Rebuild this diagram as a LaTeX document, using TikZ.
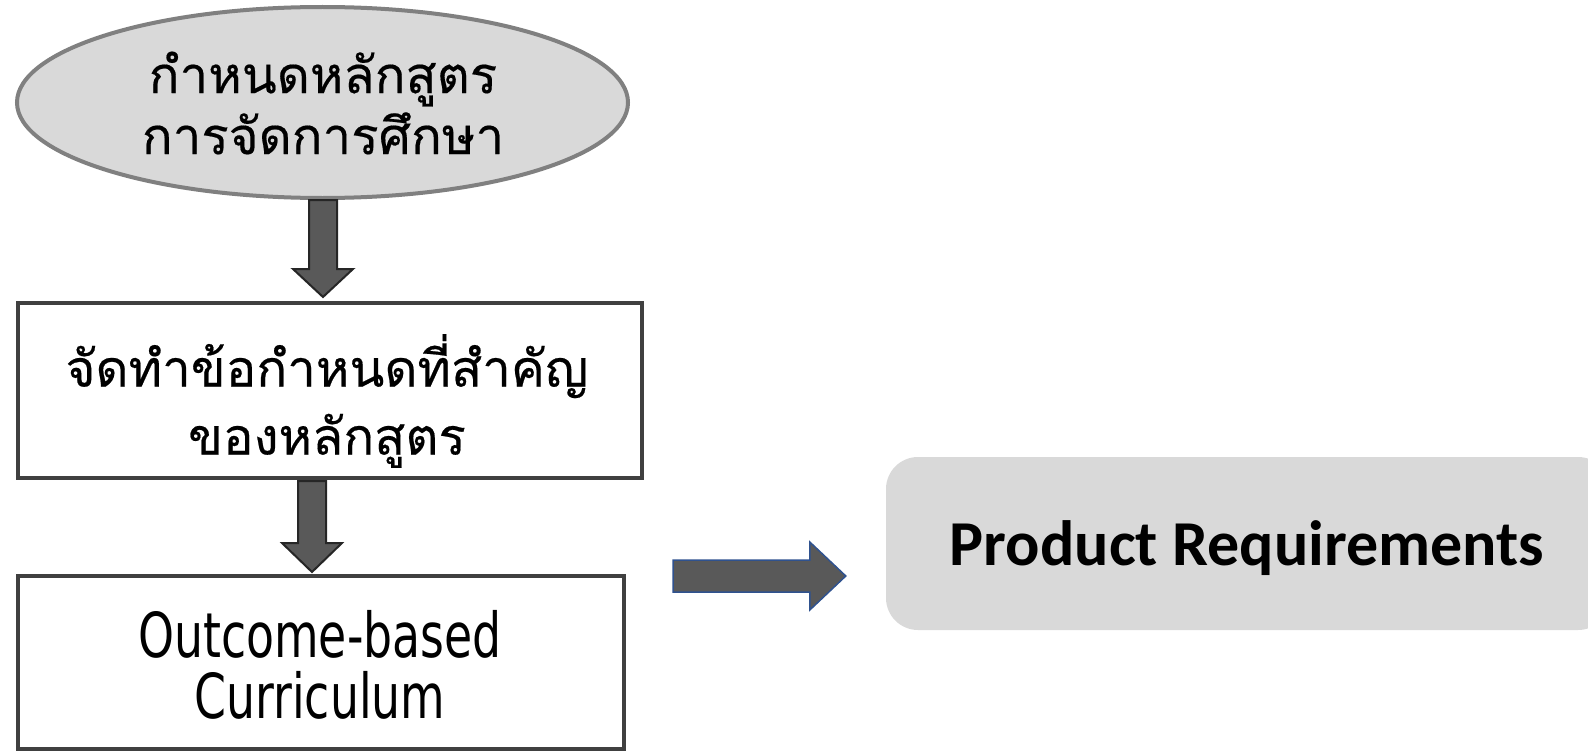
\documentclass[tikz,border=0pt]{standalone}
\usepackage{fontspec}
\usepackage{graphicx}
\usetikzlibrary{shapes.geometric,calc}
\newfontfamily\thaifont[Script=Thai,FakeBold=0.35]{Loma}
\newfontfamily\latnfont{DejaVu Sans Condensed}
\newfontfamily\prodfont{Carlito}
\definecolor{boxgray}{HTML}{D9D9D9}
\definecolor{rimgray}{HTML}{808080}
\definecolor{darkrim}{HTML}{404040}
\definecolor{arrowfill}{HTML}{595959}
\definecolor{arrowrim}{HTML}{262626}
\definecolor{bluerim}{HTML}{2F528F}
\tikzset{
  ovalbox/.style={ellipse, draw=rimgray, fill=boxgray, line width=4pt, inner sep=0pt},
  plainbox/.style={rectangle, draw=darkrim, fill=white, line width=4pt, inner sep=0pt},
  softbox/.style={rectangle, rounded corners=32pt, fill=boxgray, inner sep=0pt},
  blockarrow/.style={fill=arrowfill, draw=arrowrim, line width=2pt, line join=miter},
  sidearrow/.style={fill=arrowfill, draw=bluerim, line width=1.5pt, line join=miter},
  thaitext/.style={font=\thaifont\fontsize{51}{61}\selectfont, align=center},
  thaitextb/.style={font=\thaifont\fontsize{51}{68}\selectfont, align=center},
  latntext/.style={font=\latnfont\fontsize{62}{61}\selectfont, align=center},
  prodtext/.style={font=\prodfont\bfseries\fontsize{64}{70}\selectfont}
}
\begin{document}
\begin{tikzpicture}[x=1pt,y=-1pt]
\useasboundingbox (0,0) rectangle (1588,752);
\clip (0,0) rectangle (1588,752);
% nodes
\node[ovalbox, minimum width=611pt, minimum height=191pt] (e) at (322.5,102.5) {};
\node[thaitext] (et) at (323,103) {กำหนดหลักสูตร\\การจัดการศึกษา};
\node[plainbox, minimum width=624pt, minimum height=175pt] (b2) at (330,390.5) {};
\node[thaitextb] (b2t) at (327,401) {จัดทำข้อกำหนดที่สำคัญ\\ของหลักสูตร};
\node[plainbox, minimum width=606pt, minimum height=173pt] (b3) at (321,662.5) {};
\node[latntext] (b3t) at (320,665) {\scalebox{0.82}[1]{Outcome-based}\\\scalebox{0.82}[1]{Curriculum}};
\node[softbox, minimum width=724pt, minimum height=173pt] (pr) at (1248,543.5) {};
\node[prodtext] (prt) at (1247,548) {Product Requirements};
% arrow 1
\coordinate (a1s) at (e.south -| 323,0);
\coordinate (a1t) at (b2.north -| 323,0);
\draw[blockarrow] ($(a1s)+(-14,0)$) -- ($(a1s)+(14,0)$) -- ($(a1t)+(14,-32)$) -- ($(a1t)+(30,-32)$) -- ($(a1t)+(0,-4)$) -- ($(a1t)+(-30,-32)$) -- ($(a1t)+(-14,-32)$) -- cycle;
% arrow 2
\coordinate (a2s) at (b2.south -| 312,0);
\coordinate (a2t) at (b3.north -| 312,0);
\draw[blockarrow] ($(a2s)+(-14,1)$) -- ($(a2s)+(14,1)$) -- ($(a2t)+(14,-31)$) -- ($(a2t)+(30,-31)$) -- ($(a2t)+(0,-2)$) -- ($(a2t)+(-30,-31)$) -- ($(a2t)+(-14,-31)$) -- cycle;
% side arrow
\coordinate (a3s) at (673,576);
\coordinate (a3t) at (pr.west |- 0,576);
\draw[sidearrow] ($(a3s)+(0,-16)$) -- ($(a3t)+(-76,-16)$) -- ($(a3t)+(-76,-34)$) -- ($(a3t)+(-40,0)$) -- ($(a3t)+(-76,34)$) -- ($(a3t)+(-76,16)$) -- ($(a3s)+(0,16)$) -- cycle;
\end{tikzpicture}
\end{document}
